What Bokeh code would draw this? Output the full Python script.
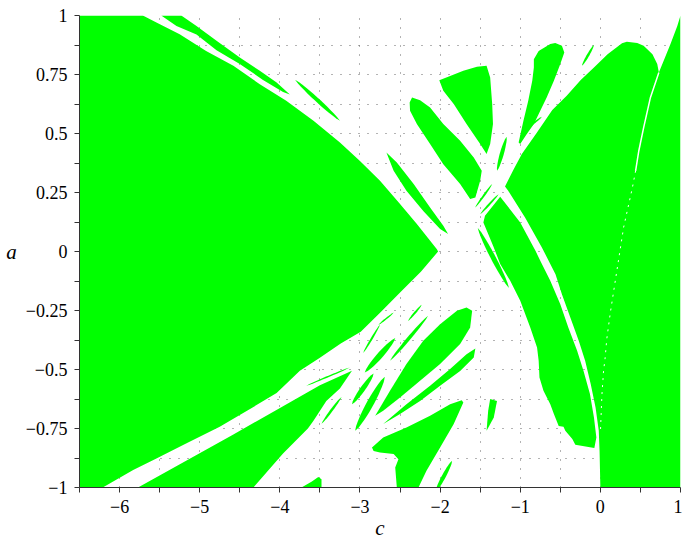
import numpy as np
from bokeh.plotting import figure
from bokeh.models import FixedTicker
from bokeh.embed import file_html
from bokeh.resources import INLINE

# ---------------- axes / ticks ----------------
x_ticks = [-6, -5, -4, -3, -2, -1, 0, 1]
x_tick_labels = ["−6", "−5", "−4", "−3", "−2", "−1", "0", "1"]
x_minor = [-6.5, -5.5, -4.5, -3.5, -2.5, -1.5, -0.5, 0.5]
y_ticks = [-1, -0.75, -0.5, -0.25, 0, 0.25, 0.5, 0.75, 1]
y_tick_labels = ["−1", "−0.75", "−0.5", "−0.25", "0", "0.25", "0.5", "0.75", "1"]
y_minor = [-0.875, -0.625, -0.375, -0.125, 0.125, 0.375, 0.625, 0.875]

# ---------------- region outlines (c, a) ----------------
left_c = [-6.5, -5.71, -5.54, -5.25, -4.92, -4.58, -4.25, -3.92, -3.58, -3.25, -3.0, -2.75, -2.5, -2.29,
          -2.04, -2.025, -2.24, -2.49, -2.74, -2.99, -3.24, -3.5, -3.75, -4.04, -4.5, -4.75, -5.17, -5.54,
          -5.83, -6.21, -6.5]
left_a = [1.0, 1.0, 0.97, 0.921, 0.85, 0.787, 0.709, 0.639, 0.554, 0.462, 0.384, 0.300, 0.201, 0.116,
          0.010, 0.0, -0.086, -0.171, -0.256, -0.34, -0.39, -0.45, -0.505, -0.6, -0.693, -0.743, -0.814, -0.877,
          -0.926, -1.0, -1.0]

band_c = [-5.77, -4.58, -3.96, -3.5, -3.1, -3.25, -3.42, -3.58, -3.65, -3.96, -4.33]
band_a = [-1.0, -0.775, -0.656, -0.567, -0.505, -0.58, -0.633, -0.717, -0.75, -0.856, -1.0]

bump_c = [-3.73, -3.6, -3.52, -3.48, -3.48]
bump_a = [-1.0, -0.975, -0.955, -0.965, -1.0]

upper_c = [-5.48, -5.23, -5.04, -4.79, -4.5, -4.25, -4.04, -3.875, -3.96, -4.21, -4.5, -4.79, -5.04, -5.29]
upper_a = [1.0, 1.0, 0.956, 0.893, 0.822, 0.766, 0.716, 0.665, 0.676, 0.727, 0.795, 0.853, 0.92, 0.955]

e1_c = [-2.81, -2.625, -2.42, -2.21, -2.0, -1.79, -1.67, -1.60, -1.625, -1.75, -2.0, -2.25, -2.5, -2.71]
e1_a = [-0.696, -0.590, -0.477, -0.378, -0.308, -0.251, -0.237, -0.251, -0.322, -0.392, -0.477, -0.548, -0.619, -0.675]

e2_c = [-2.71, -2.42, -2.125, -1.875, -1.67, -1.56, -1.58, -1.75, -2.0, -2.25, -2.5]
e2_a = [-0.731, -0.647, -0.569, -0.498, -0.435, -0.411, -0.449, -0.506, -0.569, -0.633, -0.689]

e3_c = [-2.85, -2.71, -2.42, -2.125, -1.875, -1.73, -1.71, -1.83, -2.0, -2.17, -2.27, -2.54, -2.56, -2.52,
        -2.58, -2.75, -2.83]
e3_a = [-0.830, -0.788, -0.746, -0.696, -0.647, -0.630, -0.640, -0.731, -0.830, -0.929, -1.0, -1.0, -0.915, -0.880,
        -0.858, -0.852, -0.845]

w_c = [-1.375, -1.29, -1.33, -1.42, -1.40]
w_a = [-0.625, -0.633, -0.703, -0.760, -0.675]

t1_c = [-2.01, -1.875, -1.71, -1.54, -1.42, -1.375, -1.35, -1.34, -1.375, -1.42, -1.5, -1.67, -1.83, -1.96]
t1_a = [0.726, 0.744, 0.766, 0.783, 0.787, 0.737, 0.625, 0.540, 0.455, 0.413, 0.455, 0.540, 0.625, 0.681]

t2_c = [-2.38, -2.35, -2.25, -2.125, -1.96, -1.75, -1.58, -1.48, -1.5, -1.56, -1.625, -1.75, -1.96, -2.125,
        -2.29, -2.375]
t2_a = [0.631, 0.653, 0.641, 0.610, 0.540, 0.469, 0.398, 0.342, 0.300, 0.229, 0.222, 0.286, 0.370, 0.455,
        0.540, 0.596]

t3_c = [-2.67, -2.54, -2.33, -2.125, -1.96, -1.90, -2.0, -2.21, -2.42, -2.58]
t3_a = [0.420, 0.377, 0.286, 0.186, 0.109, 0.074, 0.095, 0.172, 0.257, 0.342]

t5_c = [-0.83, -0.77, -0.625, -0.5625, -0.48, -0.45, -0.5, -0.58, -0.67, -0.75, -0.83, -0.92, -1.0, -1.02,
        -0.96, -0.90, -0.85, -0.83]
t5_a = [0.815, 0.850, 0.879, 0.883, 0.872, 0.843, 0.794, 0.723, 0.653, 0.596, 0.540, 0.497, 0.455, 0.462,
        0.554, 0.639, 0.723, 0.780]

mid_c = [-1.25, -1.0, -0.81, -0.75, -0.625, -0.5, -0.40, -0.29, -0.21, -0.13, -0.08, -0.05, -0.075, -0.3125,
         -0.35, -0.4375, -0.46, -0.52, -0.58, -0.625, -0.71, -0.76, -0.77, -0.79, -0.875, -1.0, -1.125, -1.25,
         -1.33, -1.40, -1.46, -1.44]
mid_a = [0.232, 0.123, 0.003, -0.039, -0.124, -0.223, -0.322, -0.421, -0.506, -0.604, -0.703, -0.788, -0.833,
         -0.819, -0.795, -0.760, -0.743, -0.739, -0.689, -0.647, -0.590, -0.534, -0.463, -0.407, -0.322, -0.209,
         -0.124, -0.053, 0.017, 0.074, 0.123, 0.151]

right_c = [-1.19, -1.08, -0.98, -0.80, -0.60, -0.42, -0.245, -0.08, 0.09, 0.27, 0.33, 0.46, 0.54, 0.65, 0.71,
           0.73, 0.79, 0.875, 0.96, 1.0, 1.0, 0.0, -0.01, -0.02, -0.06, -0.12, -0.19, -0.27, -0.375, -0.48,
           -0.56, -0.73, -0.94, -1.15]
right_a = [0.275, 0.35, 0.413, 0.50, 0.60, 0.66, 0.727, 0.78, 0.836, 0.882, 0.889, 0.883, 0.872, 0.836, 0.794,
           0.758, 0.808, 0.879, 0.956, 1.0, -1.0, -1.0, -0.845, -0.76, -0.661, -0.562, -0.463, -0.378, -0.28,
           -0.181, -0.096, 0.017, 0.144, 0.257]

# thin white seam inside the right region
seam_c = [0.73, 0.625, 0.54, 0.48, 0.44]
seam_a = [0.758, 0.653, 0.525, 0.427, 0.342]
seam_dot_c = [0.44, 0.40, 0.29, 0.125, 0.08, 0.06, 0.04, 0.02, 0.0]
seam_dot_a = [0.342, 0.271, 0.102, -0.258, -0.371, -0.449, -0.506, -0.604, -0.77]

# thin slivers: end points and maximum width (px)
sliver_c1 = [-3.81, -1.17, -1.5625, -1.5, -1.53, -0.96, -0.23, -2.94, -2.625, -2.40, -3.10, -3.06, -2.77,
             -2.96, -3.67, -3.48, -2.06]
sliver_a1 = [0.728, 0.486, 0.186, 0.158, 0.10, 0.511, 0.787, -0.513, -0.463, -0.294, -0.647, -0.760, -0.311,
             -0.43, -0.569, -0.73, -1.02]
sliver_c2 = [-3.25, -1.29, -1.35, -1.27, -1.14, -0.73, -0.08, -2.56, -2.15, -2.23, -2.83, -2.69, -2.58,
             -2.75, -3.125, -3.23, -1.85]
sliver_a2 = [0.554, 0.342, 0.286, 0.243, -0.155, 0.571, 0.875, -0.367, -0.272, -0.226, -0.517, -0.531, -0.259,
             -0.31, -0.491, -0.616, -0.887]
sliver_w = [4, 4, 2, 2, 5, 2, 2.5, 6, 3.5, 2, 5, 7, 1.5, 2, 1.5, 2.5, 4]


def lens(c1, a1, c2, a2, w, n=14):
    sx, sy = 80.0, 236.0
    p1 = np.array([c1 * sx, a1 * sy])
    p2 = np.array([c2 * sx, a2 * sy])
    d = p2 - p1
    nrm = np.array([-d[1], d[0]]) / np.hypot(d[0], d[1])
    t = np.linspace(0.0, 1.0, n)
    half = 0.5 * w * np.sin(np.pi * t) ** 0.6
    base = p1 + np.outer(t, d)
    top = base + np.outer(half, nrm)
    bot = (base - np.outer(half, nrm))[::-1]
    pts = np.vstack([top, bot])
    return list(pts[:, 0] / sx), list(pts[:, 1] / sy)


xs = [left_c, band_c, bump_c, upper_c, e1_c, e2_c, e3_c, w_c, t1_c, t2_c, t3_c, t5_c, mid_c, right_c]
ys = [left_a, band_a, bump_a, upper_a, e1_a, e2_a, e3_a, w_a, t1_a, t2_a, t3_a, t5_a, mid_a, right_a]
for i in range(len(sliver_w)):
    lx, ly = lens(sliver_c1[i], sliver_a1[i], sliver_c2[i], sliver_a2[i], sliver_w[i])
    xs.append(lx)
    ys.append(ly)

SERIF = "Liberation Serif, Times New Roman, serif"

p = figure(width=682, height=542, x_range=(-6.5, 1), y_range=(-1, 1),
           output_backend="svg", toolbar_location=None,
           min_border_left=79, min_border_right=2, min_border_top=15, min_border_bottom=55)
p.outline_line_color = None
p.background_fill_color = "white"
p.border_fill_color = "white"

xt = FixedTicker(ticks=x_ticks, minor_ticks=x_minor)
yt = FixedTicker(ticks=y_ticks, minor_ticks=y_minor)
p.xaxis.ticker = xt
p.yaxis.ticker = yt
p.xgrid.ticker = xt
p.ygrid.ticker = yt
p.xaxis.major_label_overrides = dict(zip(x_ticks, x_tick_labels))
p.yaxis.major_label_overrides = dict(zip(y_ticks, y_tick_labels))

for ax in (p.xaxis, p.yaxis):
    ax.axis_line_color = "#333333"
    ax.major_tick_line_color = "#333333"
    ax.minor_tick_line_color = "#333333"
    ax.major_tick_in = 0
    ax.major_tick_out = 5
    ax.minor_tick_in = 0
    ax.minor_tick_out = 5
    ax.major_label_text_font = SERIF
    ax.major_label_text_font_size = "18px"
    ax.major_label_text_color = "black"
    ax.major_label_standoff = 7
    ax.axis_label_text_font = SERIF
    ax.axis_label_text_font_style = "italic"
    ax.axis_label_text_font_size = "21px"
    ax.axis_label_text_color = "black"

p.xaxis.axis_label = "c"
p.xaxis.axis_label_standoff = 0
p.yaxis.axis_label = "a"
p.yaxis.axis_label_standoff = 6
try:
    p.yaxis.axis_label_orientation = "horizontal"
except Exception:
    pass

for g in (p.xgrid, p.ygrid):
    g.grid_line_color = "#666666"
    g.grid_line_dash = "1 8"
    g.grid_line_width = 1
    g.minor_grid_line_color = "#666666"
    g.minor_grid_line_dash = "1 8"
    g.minor_grid_line_width = 1

p.patches(xs=xs, ys=ys, fill_color="#00ff00", line_color=None)
p.line(seam_c, seam_a, line_color="white", line_width=1.5)
p.line(seam_dot_c, seam_dot_a, line_color="white", line_width=1, line_dash="2 5")

open("out.html", "w").write(file_html(p, INLINE))
